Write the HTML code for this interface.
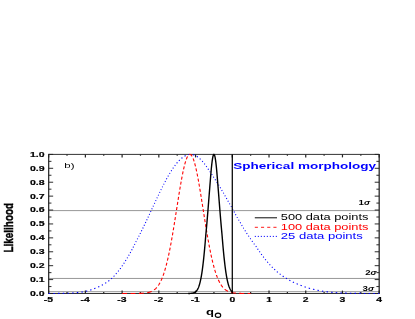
<!DOCTYPE html>
<html><head><meta charset="utf-8"><style>
html,body{margin:0;padding:0;background:#fff;}
body{width:415px;height:319px;position:relative;overflow:hidden;font-family:"Liberation Sans",sans-serif;}
text{font-family:"Liberation Sans",sans-serif;}
</style></head><body>
<svg width="415" height="319" viewBox="0 0 415 319" style="position:absolute;left:0;top:0;will-change:transform">
<line x1="48.6" x2="379.2" y1="210.60" y2="210.60" stroke="#7c7c7c" stroke-width="0.8"/>
<line x1="48.6" x2="379.2" y1="278.45" y2="278.45" stroke="#7c7c7c" stroke-width="0.8"/>
<line x1="48.6" x2="379.2" y1="291.70" y2="291.70" stroke="#7c7c7c" stroke-width="0.8"/>
<line x1="48.65" y1="154.40" x2="379.20" y2="154.40" stroke="#333" stroke-width="1.00"/>
<line x1="48.65" y1="293.50" x2="379.20" y2="293.50" stroke="#333" stroke-width="1.00"/>
<line x1="48.65" y1="153.90" x2="48.65" y2="294.00" stroke="#333" stroke-width="1.35"/>
<line x1="379.20" y1="153.90" x2="379.20" y2="294.00" stroke="#333" stroke-width="1.35"/>
<line x1="48.65" x2="48.65" y1="293.50" y2="290.60" stroke="#222" stroke-width="1.2"/>
<line x1="48.65" x2="48.65" y1="154.40" y2="157.40" stroke="#222" stroke-width="1.2"/>
<line x1="67.01" x2="67.01" y1="293.50" y2="292.10" stroke="#222" stroke-width="1.2"/>
<line x1="67.01" x2="67.01" y1="154.40" y2="155.70" stroke="#222" stroke-width="1.2"/>
<line x1="85.38" x2="85.38" y1="293.50" y2="290.60" stroke="#222" stroke-width="1.2"/>
<line x1="85.38" x2="85.38" y1="154.40" y2="157.40" stroke="#222" stroke-width="1.2"/>
<line x1="103.74" x2="103.74" y1="293.50" y2="292.10" stroke="#222" stroke-width="1.2"/>
<line x1="103.74" x2="103.74" y1="154.40" y2="155.70" stroke="#222" stroke-width="1.2"/>
<line x1="122.11" x2="122.11" y1="293.50" y2="290.60" stroke="#222" stroke-width="1.2"/>
<line x1="122.11" x2="122.11" y1="154.40" y2="157.40" stroke="#222" stroke-width="1.2"/>
<line x1="140.47" x2="140.47" y1="293.50" y2="292.10" stroke="#222" stroke-width="1.2"/>
<line x1="140.47" x2="140.47" y1="154.40" y2="155.70" stroke="#222" stroke-width="1.2"/>
<line x1="158.83" x2="158.83" y1="293.50" y2="290.60" stroke="#222" stroke-width="1.2"/>
<line x1="158.83" x2="158.83" y1="154.40" y2="157.40" stroke="#222" stroke-width="1.2"/>
<line x1="177.20" x2="177.20" y1="293.50" y2="292.10" stroke="#222" stroke-width="1.2"/>
<line x1="177.20" x2="177.20" y1="154.40" y2="155.70" stroke="#222" stroke-width="1.2"/>
<line x1="195.56" x2="195.56" y1="293.50" y2="290.60" stroke="#222" stroke-width="1.2"/>
<line x1="195.56" x2="195.56" y1="154.40" y2="157.40" stroke="#222" stroke-width="1.2"/>
<line x1="213.93" x2="213.93" y1="293.50" y2="292.10" stroke="#222" stroke-width="1.2"/>
<line x1="213.93" x2="213.93" y1="154.40" y2="155.70" stroke="#222" stroke-width="1.2"/>
<line x1="232.29" x2="232.29" y1="293.50" y2="290.60" stroke="#222" stroke-width="1.2"/>
<line x1="232.29" x2="232.29" y1="154.40" y2="157.40" stroke="#222" stroke-width="1.2"/>
<line x1="250.65" x2="250.65" y1="293.50" y2="292.10" stroke="#222" stroke-width="1.2"/>
<line x1="250.65" x2="250.65" y1="154.40" y2="155.70" stroke="#222" stroke-width="1.2"/>
<line x1="269.02" x2="269.02" y1="293.50" y2="290.60" stroke="#222" stroke-width="1.2"/>
<line x1="269.02" x2="269.02" y1="154.40" y2="157.40" stroke="#222" stroke-width="1.2"/>
<line x1="287.38" x2="287.38" y1="293.50" y2="292.10" stroke="#222" stroke-width="1.2"/>
<line x1="287.38" x2="287.38" y1="154.40" y2="155.70" stroke="#222" stroke-width="1.2"/>
<line x1="305.74" x2="305.74" y1="293.50" y2="290.60" stroke="#222" stroke-width="1.2"/>
<line x1="305.74" x2="305.74" y1="154.40" y2="157.40" stroke="#222" stroke-width="1.2"/>
<line x1="324.11" x2="324.11" y1="293.50" y2="292.10" stroke="#222" stroke-width="1.2"/>
<line x1="324.11" x2="324.11" y1="154.40" y2="155.70" stroke="#222" stroke-width="1.2"/>
<line x1="342.47" x2="342.47" y1="293.50" y2="290.60" stroke="#222" stroke-width="1.2"/>
<line x1="342.47" x2="342.47" y1="154.40" y2="157.40" stroke="#222" stroke-width="1.2"/>
<line x1="360.84" x2="360.84" y1="293.50" y2="292.10" stroke="#222" stroke-width="1.2"/>
<line x1="360.84" x2="360.84" y1="154.40" y2="155.70" stroke="#222" stroke-width="1.2"/>
<line x1="379.20" x2="379.20" y1="293.50" y2="290.60" stroke="#222" stroke-width="1.2"/>
<line x1="379.20" x2="379.20" y1="154.40" y2="157.40" stroke="#222" stroke-width="1.2"/>
<line x1="48.65" x2="53.15" y1="293.50" y2="293.50" stroke="#222" stroke-width="0.95"/>
<line x1="379.20" x2="374.70" y1="293.50" y2="293.50" stroke="#222" stroke-width="0.95"/>
<line x1="48.65" x2="51.45" y1="286.55" y2="286.55" stroke="#222" stroke-width="0.95"/>
<line x1="379.20" x2="376.40" y1="286.55" y2="286.55" stroke="#222" stroke-width="0.95"/>
<line x1="48.65" x2="53.15" y1="279.59" y2="279.59" stroke="#222" stroke-width="0.95"/>
<line x1="379.20" x2="374.70" y1="279.59" y2="279.59" stroke="#222" stroke-width="0.95"/>
<line x1="48.65" x2="51.45" y1="272.63" y2="272.63" stroke="#222" stroke-width="0.95"/>
<line x1="379.20" x2="376.40" y1="272.63" y2="272.63" stroke="#222" stroke-width="0.95"/>
<line x1="48.65" x2="53.15" y1="265.68" y2="265.68" stroke="#222" stroke-width="0.95"/>
<line x1="379.20" x2="374.70" y1="265.68" y2="265.68" stroke="#222" stroke-width="0.95"/>
<line x1="48.65" x2="51.45" y1="258.73" y2="258.73" stroke="#222" stroke-width="0.95"/>
<line x1="379.20" x2="376.40" y1="258.73" y2="258.73" stroke="#222" stroke-width="0.95"/>
<line x1="48.65" x2="53.15" y1="251.77" y2="251.77" stroke="#222" stroke-width="0.95"/>
<line x1="379.20" x2="374.70" y1="251.77" y2="251.77" stroke="#222" stroke-width="0.95"/>
<line x1="48.65" x2="51.45" y1="244.81" y2="244.81" stroke="#222" stroke-width="0.95"/>
<line x1="379.20" x2="376.40" y1="244.81" y2="244.81" stroke="#222" stroke-width="0.95"/>
<line x1="48.65" x2="53.15" y1="237.86" y2="237.86" stroke="#222" stroke-width="0.95"/>
<line x1="379.20" x2="374.70" y1="237.86" y2="237.86" stroke="#222" stroke-width="0.95"/>
<line x1="48.65" x2="51.45" y1="230.91" y2="230.91" stroke="#222" stroke-width="0.95"/>
<line x1="379.20" x2="376.40" y1="230.91" y2="230.91" stroke="#222" stroke-width="0.95"/>
<line x1="48.65" x2="53.15" y1="223.95" y2="223.95" stroke="#222" stroke-width="0.95"/>
<line x1="379.20" x2="374.70" y1="223.95" y2="223.95" stroke="#222" stroke-width="0.95"/>
<line x1="48.65" x2="51.45" y1="217.00" y2="217.00" stroke="#222" stroke-width="0.95"/>
<line x1="379.20" x2="376.40" y1="217.00" y2="217.00" stroke="#222" stroke-width="0.95"/>
<line x1="48.65" x2="53.15" y1="210.04" y2="210.04" stroke="#222" stroke-width="0.95"/>
<line x1="379.20" x2="374.70" y1="210.04" y2="210.04" stroke="#222" stroke-width="0.95"/>
<line x1="48.65" x2="51.45" y1="203.08" y2="203.08" stroke="#222" stroke-width="0.95"/>
<line x1="379.20" x2="376.40" y1="203.08" y2="203.08" stroke="#222" stroke-width="0.95"/>
<line x1="48.65" x2="53.15" y1="196.13" y2="196.13" stroke="#222" stroke-width="0.95"/>
<line x1="379.20" x2="374.70" y1="196.13" y2="196.13" stroke="#222" stroke-width="0.95"/>
<line x1="48.65" x2="51.45" y1="189.18" y2="189.18" stroke="#222" stroke-width="0.95"/>
<line x1="379.20" x2="376.40" y1="189.18" y2="189.18" stroke="#222" stroke-width="0.95"/>
<line x1="48.65" x2="53.15" y1="182.22" y2="182.22" stroke="#222" stroke-width="0.95"/>
<line x1="379.20" x2="374.70" y1="182.22" y2="182.22" stroke="#222" stroke-width="0.95"/>
<line x1="48.65" x2="51.45" y1="175.26" y2="175.26" stroke="#222" stroke-width="0.95"/>
<line x1="379.20" x2="376.40" y1="175.26" y2="175.26" stroke="#222" stroke-width="0.95"/>
<line x1="48.65" x2="53.15" y1="168.31" y2="168.31" stroke="#222" stroke-width="0.95"/>
<line x1="379.20" x2="374.70" y1="168.31" y2="168.31" stroke="#222" stroke-width="0.95"/>
<line x1="48.65" x2="51.45" y1="161.35" y2="161.35" stroke="#222" stroke-width="0.95"/>
<line x1="379.20" x2="376.40" y1="161.35" y2="161.35" stroke="#222" stroke-width="0.95"/>
<line x1="48.65" x2="53.15" y1="154.40" y2="154.40" stroke="#222" stroke-width="0.95"/>
<line x1="379.20" x2="374.70" y1="154.40" y2="154.40" stroke="#222" stroke-width="0.95"/>
<path fill="none" stroke="#0000ff" stroke-width="1.1" d="M48.65,293.48L49.02,293.48L49.38,293.48L49.75,293.48L50.12,293.48L50.13,293.48M53.35,293.46L53.42,293.46L53.79,293.46L54.16,293.46L54.53,293.45L54.84,293.45M58.05,293.42L58.20,293.42L58.57,293.42L58.93,293.41L59.30,293.41L59.54,293.41M62.76,293.35L62.97,293.35L63.34,293.34L63.71,293.33L64.08,293.32L64.24,293.32M67.45,293.23L67.75,293.22L68.12,293.20L68.48,293.19L68.85,293.18L68.94,293.17M72.14,293.01L72.16,293.01L72.52,292.99L72.89,292.97L73.26,292.95L73.62,292.92M76.81,292.67L76.93,292.66L77.30,292.62L77.66,292.58L78.03,292.55L78.27,292.52M81.42,292.11L81.71,292.07L82.07,292.01L82.44,291.95L82.81,291.89L82.85,291.88M85.91,291.27L86.11,291.23L86.48,291.14L86.85,291.05L87.21,290.96L87.29,290.94M90.20,290.11L90.52,290.01L90.89,289.89L91.25,289.76L91.50,289.68M94.21,288.62L94.56,288.47L94.93,288.31L95.29,288.14L95.41,288.09M98.09,287.02L98.23,286.96L98.60,286.80L98.97,286.64L99.29,286.49M101.79,285.26L101.91,285.20L102.27,285.01L102.64,284.81L102.90,284.67M105.22,283.31L105.58,283.08L105.95,282.85L106.24,282.66M108.36,281.19L108.52,281.08L108.88,280.81L109.25,280.54L109.31,280.50M111.18,278.91L111.45,278.65L111.82,278.30L111.98,278.15M113.64,276.49L113.66,276.47L114.03,276.09L114.38,275.71M115.93,273.99L116.23,273.65L116.60,273.22L116.61,273.20M118.06,271.45L118.07,271.44L118.43,270.98L118.70,270.64M120.05,268.87L120.27,268.58L120.64,268.08L120.66,268.05M121.94,266.26L122.11,266.02L122.47,265.49L122.51,265.43M123.73,263.63L123.94,263.30L124.27,262.79M125.43,260.97L125.78,260.42L125.96,260.13M127.07,258.30L127.25,258.00L127.57,257.45M128.64,255.61L128.72,255.48L129.08,254.84L129.13,254.76M130.16,252.92L130.19,252.87L130.55,252.20L130.63,252.06M131.63,250.21L131.65,250.17L132.02,249.48L132.09,249.35M133.06,247.49L133.12,247.38L133.49,246.66L133.51,246.64M134.46,244.77L134.59,244.50L134.89,243.91M135.83,242.05L136.06,241.59L136.28,241.19M137.26,239.33L137.53,238.82L137.71,238.47M138.67,236.61L139.00,235.97L139.11,235.75M140.06,233.89L140.10,233.80L140.47,233.07L140.49,233.03M141.42,231.16L141.57,230.85L141.84,230.30M142.76,228.43L143.04,227.85L143.18,227.57M144.08,225.69L144.14,225.56L144.49,224.83M145.39,222.96L145.61,222.49L145.80,222.09M146.68,220.22L146.71,220.15L147.08,219.37L147.09,219.35M147.97,217.48L148.18,217.02L148.37,216.61M149.25,214.73L149.28,214.65L149.65,213.87M150.52,211.99L150.75,211.49L150.92,211.12M151.79,209.25L151.86,209.11L152.19,208.38M153.06,206.50L153.32,205.93L153.46,205.64M154.33,203.76L154.43,203.56L154.74,202.89M155.61,201.02L155.90,200.41L156.02,200.15M156.90,198.27L157.00,198.06L157.31,197.41M158.20,195.53L158.47,194.97L158.61,194.67M159.51,192.80L159.57,192.67L159.92,191.93M160.84,190.06L161.04,189.66L161.26,189.20M162.19,187.33L162.51,186.70L162.62,186.47M163.57,184.61L163.61,184.53L163.98,183.82L164.01,183.75M164.98,181.89L165.08,181.71L165.43,181.03M166.43,179.18L166.55,178.97L166.90,178.33M167.94,176.48L168.02,176.34L168.38,175.70L168.42,175.63M169.50,173.79L169.85,173.20L170.00,172.95M171.13,171.12L171.32,170.82L171.67,170.28M172.86,168.47L173.16,168.03L173.43,167.64M174.71,165.85L174.99,165.47L175.32,165.03M176.72,163.27L176.83,163.14L177.20,162.70L177.39,162.47M178.95,160.76L179.03,160.67L179.40,160.30L179.71,159.99M181.50,158.37L181.60,158.28L181.97,157.99L182.34,157.70L182.40,157.66M184.57,156.22L184.91,156.02L185.28,155.83L185.64,155.65L185.69,155.63M188.48,154.67L188.58,154.64L188.95,154.57L189.32,154.51L189.68,154.47L189.91,154.45M193.07,154.66L193.36,154.74L193.72,154.85L194.09,154.97L194.39,155.08M196.84,156.33L197.03,156.45L197.40,156.70L197.76,156.96L197.83,157.00M199.73,158.57L199.97,158.79L200.34,159.14L200.53,159.33M202.14,161.02L202.17,161.05L202.54,161.47L202.83,161.81M204.26,163.56L204.38,163.72L204.74,164.20L204.88,164.38M206.18,166.17L206.21,166.21L206.58,166.74L206.75,166.99M208.02,168.79L208.05,168.83L208.42,169.35L208.60,169.62M209.83,171.42L209.88,171.49L210.25,172.04L210.40,172.25M211.59,174.06L211.72,174.25L212.09,174.81L212.14,174.90M213.32,176.71L213.56,177.08L213.86,177.55M215.04,179.36L215.39,179.92L215.58,180.20M216.75,182.02L216.86,182.20L217.23,182.77L217.29,182.86M218.46,184.67L218.70,185.05L219.00,185.51M220.12,187.34L220.17,187.42L220.54,188.05L220.62,188.19M221.69,190.03L222.01,190.57L222.18,190.87M223.25,192.71L223.47,193.09L223.75,193.56M224.82,195.40L224.94,195.61L225.31,196.24L225.32,196.25M226.37,198.09L226.41,198.16L226.78,198.81L226.85,198.94M227.90,200.79L228.25,201.41L228.38,201.64M229.43,203.48L229.72,203.99L229.91,204.33M230.97,206.17L231.19,206.56L231.46,207.02M232.50,208.87L232.66,209.16L232.97,209.72M233.98,211.57L234.13,211.83L234.46,212.43M235.48,214.27L235.59,214.47L235.96,215.13M237.00,216.97L237.06,217.09L237.43,217.74L237.48,217.82M238.53,219.67L238.53,219.67L238.90,220.31L239.02,220.52M240.09,222.36L240.37,222.84L240.58,223.20M241.67,225.04L241.84,225.33L242.17,225.89M243.28,227.72L243.31,227.77L243.67,228.37L243.79,228.56M244.92,230.39L245.14,230.74L245.46,231.23M246.62,233.05L246.98,233.59L247.17,233.88M248.37,235.69L248.45,235.81L248.82,236.36L248.93,236.53M250.16,238.33L250.29,238.51L250.65,239.04L250.73,239.16M251.98,240.95L252.12,241.15L252.49,241.67L252.57,241.78M253.85,243.57L253.96,243.72L254.33,244.22L254.45,244.39M255.78,246.17L255.79,246.19L256.16,246.67L256.38,246.99M257.59,248.80L257.63,248.86L258.00,249.40L258.15,249.63M259.39,251.43L259.47,251.54L259.83,252.06L259.97,252.26M261.25,254.05L261.30,254.12L261.67,254.62L261.85,254.87M263.18,256.65L263.51,257.08L263.80,257.46M265.18,259.23L265.34,259.44L265.71,259.89L265.83,260.04M267.29,261.77L267.55,262.08L267.91,262.50L267.98,262.57M269.52,264.28L269.75,264.54L270.12,264.94L270.24,265.07M271.85,266.76L271.95,266.87L272.32,267.24L272.61,267.53M274.31,269.19L274.53,269.40L274.89,269.74L275.11,269.95M276.90,271.57L277.10,271.74L277.46,272.06L277.74,272.31M279.70,273.85L280.04,274.11L280.40,274.38L280.63,274.55M282.71,276.04L282.97,276.22L283.34,276.47L283.70,276.71M285.90,278.14L285.91,278.14L286.28,278.37L286.65,278.59L286.95,278.77M289.28,280.12L289.58,280.29L289.95,280.49L290.32,280.69L290.38,280.72M292.84,281.98L292.89,282.01L293.26,282.19L293.62,282.36L293.99,282.54L294.00,282.54M296.59,283.70L296.93,283.84L297.30,284.00L297.66,284.15L297.81,284.21M300.53,285.25L300.60,285.28L300.97,285.43L301.34,285.57L301.70,285.71L301.78,285.74M304.53,286.75L304.64,286.79L305.01,286.91L305.38,287.03L305.74,287.15L305.83,287.18M308.71,288.06L309.05,288.16L309.42,288.26L309.78,288.36L310.06,288.43M313.03,289.18L313.09,289.20L313.46,289.28L313.82,289.36L314.19,289.45L314.42,289.50M317.42,290.19L317.50,290.21L317.86,290.29L318.23,290.36L318.60,290.44L318.83,290.48M321.91,291.05L322.27,291.11L322.64,291.17L323.01,291.23L323.34,291.28M326.48,291.72L326.68,291.74L327.05,291.79L327.41,291.83L327.78,291.88L327.93,291.90M331.10,292.23L331.45,292.27L331.82,292.30L332.19,292.34L332.56,292.37L332.57,292.37M335.76,292.63L335.86,292.63L336.23,292.66L336.60,292.68L336.96,292.71L337.24,292.72M340.44,292.91L340.64,292.92L341.00,292.93L341.37,292.95L341.74,292.97L341.92,292.98M345.13,293.11L345.41,293.12L345.78,293.13L346.14,293.14L346.51,293.15L346.61,293.15M349.83,293.24L350.19,293.25L350.55,293.26L350.92,293.27L351.29,293.28L351.31,293.28M354.53,293.34L354.59,293.34L354.96,293.34L355.33,293.35L355.69,293.35L356.01,293.36M359.23,293.40L359.37,293.40L359.73,293.40L360.10,293.41L360.47,293.41L360.71,293.41M363.93,293.44L364.14,293.44L364.51,293.44L364.88,293.44L365.24,293.44L365.42,293.45M368.63,293.46L368.92,293.46L369.28,293.46L369.65,293.47L370.02,293.47L370.12,293.47M373.34,293.48L373.69,293.48L374.06,293.48L374.43,293.48L374.79,293.48L374.82,293.48M378.04,293.49L378.10,293.49L378.47,293.49L378.83,293.49L379.20,293.49"/>
<path fill="none" stroke="#ff0000" stroke-width="1.1" d="M122.11,293.50L122.32,293.50L122.53,293.50L122.75,293.50L122.96,293.50L123.18,293.50L123.39,293.50L123.61,293.50L123.82,293.50L124.03,293.50L124.25,293.50L124.46,293.50L124.68,293.50L124.89,293.50L125.10,293.50L125.32,293.50L125.53,293.50L125.75,293.50L125.96,293.50L126.18,293.50L126.39,293.50L126.60,293.50L126.82,293.50L127.03,293.50L127.06,293.50M130.52,293.49L130.68,293.49L130.89,293.49L131.10,293.49L131.32,293.49L131.53,293.49L131.75,293.49L131.96,293.49L132.18,293.49L132.39,293.49L132.60,293.49L132.82,293.49L133.03,293.49L133.25,293.49L133.46,293.48L133.67,293.48L133.89,293.48L134.10,293.48L134.32,293.48L134.53,293.48L134.75,293.48L134.96,293.47L135.17,293.47L135.39,293.47L135.47,293.47M138.93,293.42L139.03,293.41L139.25,293.41L139.46,293.40L139.67,293.40L139.89,293.39L140.10,293.38L140.32,293.38L140.53,293.37L140.74,293.36L140.96,293.35L141.17,293.34L141.39,293.33L141.60,293.32L141.82,293.31L142.03,293.30L142.24,293.29L142.46,293.28L142.67,293.26L142.89,293.25L143.10,293.23L143.32,293.22L143.53,293.20L143.74,293.18L143.87,293.17M147.25,292.73L147.39,292.70L147.60,292.66L147.82,292.62L148.03,292.57L148.24,292.52L148.46,292.47L148.67,292.42L148.89,292.36L149.10,292.30L149.31,292.24L149.53,292.18L149.74,292.11L149.96,292.04L150.17,291.97L150.39,291.89L150.60,291.81L150.81,291.73L151.03,291.64L151.24,291.55L151.46,291.45L151.63,291.37M154.11,289.91L154.24,289.81L154.46,289.65L154.67,289.48L154.89,289.30L155.10,289.12L155.31,288.93L155.53,288.73L155.74,288.53L155.96,288.31L156.17,288.09L156.38,287.87L156.60,287.63L156.80,287.40M158.27,285.50L158.31,285.44L158.53,285.12L158.74,284.79L158.96,284.46L159.17,284.11L159.38,283.75L159.60,283.38L159.81,283.00L159.98,282.68M161.00,280.68L161.10,280.46L161.31,280.00L161.53,279.52L161.74,279.02L161.96,278.52L162.17,278.00L162.26,277.78M163.05,275.73L163.24,275.19L163.45,274.59L163.67,273.97L163.88,273.33L164.06,272.79M164.71,270.73L164.74,270.64L164.95,269.93L165.17,269.20L165.38,268.46L165.58,267.78M166.14,265.71L166.24,265.32L166.45,264.50L166.67,263.66L166.88,262.80L166.90,262.74M167.40,260.66L167.53,260.14L167.74,259.22L167.95,258.28L168.09,257.69M168.54,255.61L168.60,255.37L168.81,254.36L169.03,253.35L169.17,252.63M169.60,250.55L169.67,250.20L169.88,249.12L170.10,248.03L170.18,247.57M170.58,245.49L170.74,244.66L170.95,243.50L171.14,242.50M171.52,240.42L171.60,239.97L171.81,238.76L172.02,237.54L172.04,237.43M172.41,235.35L172.45,235.07L172.67,233.82L172.88,232.56L172.91,232.36M173.26,230.27L173.31,230.00L173.52,228.71L173.74,227.40L173.76,227.29M174.10,225.20L174.17,224.77L174.38,223.45L174.58,222.21M174.91,220.12L175.02,219.43L175.24,218.08L175.39,217.14M175.72,215.04L175.88,214.01L176.10,212.64L176.19,212.06M176.52,209.97L176.52,209.91L176.74,208.55L176.95,207.18L176.98,206.98M177.31,204.89L177.38,204.45L177.60,203.09L177.78,201.90M178.11,199.81L178.24,199.03L178.45,197.68L178.59,196.83M178.93,194.74L179.09,193.69L179.31,192.38L179.41,191.75M179.76,189.66L179.95,188.50L180.17,187.23L180.26,186.68M180.62,184.59L180.81,183.50L181.02,182.29L181.15,181.61M181.52,179.52L181.67,178.75L181.88,177.61L182.08,176.54M182.49,174.45L182.52,174.29L182.74,173.23L182.95,172.19L183.10,171.48M183.55,169.39L183.59,169.21L183.81,168.27L184.02,167.35L184.24,166.46L184.25,166.42M184.78,164.35L184.88,163.96L185.09,163.18L185.31,162.43L185.52,161.72L185.62,161.39M186.32,159.33L186.38,159.16L186.59,158.60L186.81,158.08L187.02,157.59L187.24,157.13L187.45,156.71L187.60,156.44M189.18,154.59L189.38,154.50L189.59,154.43L189.81,154.40L190.02,154.41L190.24,154.45L190.45,154.53L190.66,154.65L190.88,154.81L191.09,155.00L191.31,155.22L191.52,155.48L191.74,155.78L191.95,156.11L192.12,156.40M193.07,158.42L193.24,158.84L193.45,159.41L193.66,160.01L193.88,160.65L194.09,161.32L194.10,161.35M194.71,163.42L194.73,163.51L194.95,164.30L195.16,165.12L195.38,165.97L195.48,166.39M195.97,168.46L196.02,168.67L196.23,169.62L196.45,170.60L196.63,171.44M197.06,173.52L197.09,173.68L197.31,174.75L197.52,175.85L197.65,176.50M198.04,178.59L198.16,179.25L198.38,180.42L198.58,181.57M198.95,183.66L199.02,184.03L199.23,185.26L199.45,186.51L199.47,186.64M199.82,188.73L199.88,189.05L200.09,190.34L200.31,191.63L200.32,191.71M200.66,193.80L200.73,194.26L200.95,195.58L201.14,196.79M201.48,198.88L201.59,199.60L201.80,200.96L201.95,201.87M202.28,203.96L202.45,205.03L202.66,206.40L202.75,206.94M203.07,209.03L203.09,209.13L203.30,210.50L203.52,211.86L203.54,212.02M203.87,214.11L203.95,214.59L204.16,215.95L204.34,217.10M204.67,219.19L204.80,220.01L205.02,221.35L205.15,222.17M205.49,224.26L205.66,225.34L205.88,226.66L205.97,227.25M206.32,229.34L206.52,230.55L206.73,231.83L206.82,232.32M207.17,234.41L207.38,235.61L207.59,236.84L207.69,237.40M208.05,239.48L208.23,240.48L208.45,241.67L208.59,242.47M208.98,244.55L209.09,245.15L209.30,246.28L209.52,247.39L209.54,247.53M209.95,249.62L210.16,250.66L210.37,251.72L210.56,252.60M210.99,254.68L211.02,254.80L211.23,255.79L211.45,256.77L211.64,257.65M212.12,259.73L212.30,260.53L212.52,261.43L212.73,262.31L212.83,262.70M213.35,264.78L213.37,264.86L213.59,265.67L213.80,266.47L214.02,267.26L214.15,267.74M214.75,269.81L214.87,270.24L215.09,270.94L215.30,271.63L215.52,272.31L215.66,272.76M216.36,274.81L216.37,274.85L216.59,275.45L216.80,276.03L217.02,276.60L217.23,277.16L217.44,277.70L217.46,277.74M218.32,279.77L218.52,280.20L218.73,280.66L218.94,281.11L219.16,281.54L219.37,281.96L219.59,282.38L219.73,282.65M220.89,284.63L221.09,284.93L221.30,285.26L221.52,285.57L221.73,285.87L221.94,286.17L222.16,286.45L222.37,286.72L222.59,286.99L222.80,287.25L222.90,287.37M224.69,289.16L224.73,289.20L224.94,289.38L225.16,289.55L225.37,289.72L225.59,289.88L225.80,290.04L226.01,290.19L226.23,290.33L226.44,290.47L226.66,290.60L226.87,290.73L227.09,290.85L227.30,290.97L227.51,291.08L227.73,291.19L227.94,291.30L228.05,291.35M231.03,292.41L231.16,292.44L231.37,292.49L231.58,292.54L231.80,292.59L232.01,292.63L232.23,292.68L232.44,292.72L232.66,292.76L232.87,292.80L233.08,292.83L233.30,292.87L233.51,292.90L233.73,292.93L233.94,292.96L234.16,292.99L234.37,293.02L234.58,293.04L234.80,293.07L235.01,293.09L235.23,293.11L235.44,293.13L235.66,293.15L235.81,293.17M239.26,293.37L239.30,293.37L239.51,293.38L239.73,293.39L239.94,293.39L240.15,293.40L240.37,293.41L240.58,293.41L240.80,293.42L241.01,293.42L241.23,293.43L241.44,293.43L241.65,293.44L241.87,293.44L242.08,293.44L242.30,293.45L242.51,293.45L242.73,293.45L242.94,293.46L243.15,293.46L243.37,293.46L243.58,293.46L243.80,293.47L244.01,293.47L244.20,293.47M247.67,293.49L247.87,293.49L248.08,293.49L248.30,293.49L248.51,293.49L248.72,293.49L248.94,293.49L249.15,293.49L249.37,293.49L249.58,293.49L249.80,293.50L250.01,293.50L250.22,293.50L250.44,293.50L250.65,293.50"/>
<polyline fill="none" stroke="#000" stroke-width="1.4" points="188.22,293.48 188.33,293.47 188.44,293.47 188.55,293.47 188.66,293.47 188.77,293.47 188.88,293.46 188.99,293.46 189.10,293.46 189.21,293.45 189.32,293.45 189.43,293.45 189.54,293.44 189.65,293.44 189.76,293.44 189.87,293.43 189.98,293.43 190.09,293.42 190.20,293.41 190.31,293.41 190.42,293.40 190.53,293.39 190.64,293.39 190.75,293.38 190.86,293.37 190.97,293.36 191.08,293.35 191.19,293.34 191.30,293.33 191.41,293.32 191.52,293.31 191.63,293.30 191.74,293.28 191.85,293.27 191.96,293.25 192.07,293.24 192.18,293.22 192.29,293.20 192.40,293.18 192.51,293.16 192.62,293.14 192.73,293.12 192.84,293.09 192.95,293.07 193.06,293.04 193.17,293.01 193.28,292.98 193.39,292.95 193.50,292.92 193.61,292.88 193.72,292.85 193.83,292.81 193.95,292.76 194.06,292.72 194.17,292.68 194.28,292.63 194.39,292.58 194.50,292.52 194.61,292.47 194.72,292.41 194.83,292.34 194.94,292.28 195.05,292.21 195.16,292.14 195.27,292.06 195.38,291.98 195.49,291.90 195.60,291.81 195.71,291.72 195.82,291.62 195.93,291.52 196.04,291.42 196.15,291.31 196.26,291.19 196.37,291.07 196.48,290.94 196.59,290.81 196.70,290.68 196.81,290.53 196.92,290.38 197.03,290.22 197.14,290.06 197.25,289.89 197.36,289.71 197.47,289.53 197.58,289.33 197.69,289.13 197.80,288.92 197.91,288.71 198.02,288.48 198.13,288.24 198.24,288.00 198.35,287.74 198.46,287.48 198.57,287.20 198.68,286.92 198.79,286.62 198.90,286.32 199.01,286.00 199.12,285.67 199.23,285.33 199.34,284.97 199.45,284.61 199.56,284.23 199.67,283.84 199.78,283.43 199.89,283.01 200.01,282.58 200.12,282.13 200.23,281.67 200.34,281.20 200.45,280.70 200.56,280.20 200.67,279.67 200.78,279.14 200.89,278.58 201.00,278.01 201.11,277.42 201.22,276.82 201.33,276.20 201.44,275.56 201.55,274.90 201.66,274.22 201.77,273.53 201.88,272.82 201.99,272.09 202.10,271.34 202.21,270.57 202.32,269.78 202.43,268.98 202.54,268.15 202.65,267.31 202.76,266.44 202.87,265.56 202.98,264.65 203.09,263.73 203.20,262.79 203.31,261.82 203.42,260.84 203.53,259.84 203.64,258.82 203.75,257.77 203.86,256.71 203.97,255.63 204.08,254.53 204.19,253.41 204.30,252.27 204.41,251.11 204.52,249.94 204.63,248.74 204.74,247.53 204.85,246.30 204.96,245.05 205.07,243.79 205.18,242.51 205.29,241.21 205.40,239.89 205.51,238.56 205.62,237.22 205.73,235.86 205.84,234.49 205.96,233.34 206.07,232.18 206.18,231.00 206.29,229.82 206.40,228.61 206.51,227.40 206.62,226.17 206.73,224.92 206.84,223.67 206.95,222.40 207.06,221.12 207.17,219.83 207.28,218.53 207.39,217.21 207.50,215.89 207.61,214.55 207.72,213.21 207.83,211.86 207.94,210.50 208.05,209.13 208.16,207.76 208.27,206.38 208.38,204.99 208.49,203.60 208.60,202.21 208.71,200.81 208.82,199.41 208.93,198.01 209.04,196.61 209.15,195.21 209.26,193.81 209.37,192.41 209.48,191.02 209.59,189.63 209.70,188.25 209.81,186.87 209.92,185.50 210.03,184.15 210.14,182.80 210.25,181.47 210.36,180.03 210.47,178.61 210.58,177.22 210.69,175.86 210.80,174.53 210.91,173.24 211.02,171.97 211.13,170.74 211.24,169.55 211.35,168.40 211.46,167.28 211.57,166.20 211.68,165.16 211.79,164.17 211.90,163.21 212.02,162.31 212.13,161.44 212.24,160.63 212.35,159.86 212.46,159.13 212.57,158.46 212.68,157.84 212.79,157.26 212.90,156.74 213.01,156.27 213.12,155.85 213.23,155.48 213.34,155.17 213.45,154.91 213.56,154.70 213.67,154.55 213.78,154.45 213.89,154.40 214.00,154.41 214.11,154.48 214.22,154.59 214.33,154.76 214.44,154.99 214.55,155.27 214.66,155.60 214.77,155.98 214.88,156.42 214.99,156.91 215.10,157.45 215.21,158.04 215.32,158.68 215.43,159.37 215.54,160.11 215.65,160.89 215.76,161.73 215.87,162.60 215.98,163.53 216.09,164.49 216.20,165.50 216.31,166.55 216.42,167.65 216.53,168.78 216.64,169.95 216.75,171.15 216.86,172.39 216.97,173.67 217.08,174.97 217.19,176.31 217.30,177.68 217.41,179.08 217.52,180.50 217.63,181.91 217.74,183.25 217.85,184.60 217.97,185.96 218.08,187.33 218.19,188.71 218.30,190.09 218.41,191.48 218.52,192.87 218.63,194.27 218.74,195.67 218.85,197.07 218.96,198.47 219.07,199.88 219.18,201.27 219.29,202.67 219.40,204.06 219.51,205.45 219.62,206.84 219.73,208.22 219.84,209.59 219.95,210.95 220.06,212.31 220.17,213.66 220.28,215.00 220.39,216.33 220.50,217.65 220.61,218.96 220.72,220.26 220.83,221.55 220.94,222.82 221.05,224.09 221.16,225.34 221.27,226.58 221.38,227.80 221.49,229.01 221.60,230.21 221.71,231.40 221.82,232.57 221.93,233.72 222.04,234.95 222.15,236.31 222.26,237.67 222.37,239.01 222.48,240.33 222.59,241.64 222.70,242.93 222.81,244.21 222.92,245.47 223.03,246.71 223.14,247.94 223.25,249.14 223.36,250.33 223.47,251.50 223.58,252.65 223.69,253.79 223.80,254.90 223.91,255.99 224.03,257.07 224.14,258.12 224.25,259.16 224.36,260.17 224.47,261.17 224.58,262.15 224.69,263.10 224.80,264.04 224.91,264.96 225.02,265.85 225.13,266.73 225.24,267.59 225.35,268.43 225.46,269.25 225.57,270.05 225.68,270.83 225.79,271.59 225.90,272.33 226.01,273.06 226.12,273.76 226.23,274.45 226.34,275.12 226.45,275.77 226.56,276.40 226.67,277.02 226.78,277.62 226.89,278.20 227.00,278.77 227.11,279.32 227.22,279.85 227.33,280.37 227.44,280.87 227.55,281.36 227.66,281.83 227.77,282.28 227.88,282.73 227.99,283.15 228.10,283.57 228.21,283.97 228.32,284.36 228.43,284.73 228.54,285.09 228.65,285.44 228.76,285.78 228.87,286.11 228.98,286.42 229.09,286.72 229.20,287.02 229.31,287.30 229.42,287.57 229.53,287.83 229.64,288.08 229.75,288.32 229.86,288.55 229.98,288.78 230.09,288.99 230.20,289.20 230.31,289.40 230.42,289.59 230.53,289.77 230.64,289.95 230.75,290.12 230.86,290.28 230.97,290.43 231.08,290.58 231.19,290.72 231.30,290.86 231.41,290.99 231.52,291.11 231.63,291.23 231.74,291.34 231.85,291.45 231.96,291.56 232.07,291.66 232.18,291.75 232.29,291.84"/>
<line x1="232.29" x2="232.29" y1="154.40" y2="293.50" stroke="#000" stroke-width="1.25"/>
<text transform="translate(44.60,295.90) scale(1.570,1)" font-size="6.70" text-anchor="end" fill="#000" font-weight="bold" stroke="#000" stroke-width="0.18">0.0</text>
<text transform="translate(44.60,281.99) scale(1.570,1)" font-size="6.70" text-anchor="end" fill="#000" font-weight="bold" stroke="#000" stroke-width="0.18">0.1</text>
<text transform="translate(44.60,268.08) scale(1.570,1)" font-size="6.70" text-anchor="end" fill="#000" font-weight="bold" stroke="#000" stroke-width="0.18">0.2</text>
<text transform="translate(44.60,254.17) scale(1.570,1)" font-size="6.70" text-anchor="end" fill="#000" font-weight="bold" stroke="#000" stroke-width="0.18">0.3</text>
<text transform="translate(44.60,240.26) scale(1.570,1)" font-size="6.70" text-anchor="end" fill="#000" font-weight="bold" stroke="#000" stroke-width="0.18">0.4</text>
<text transform="translate(44.60,226.35) scale(1.570,1)" font-size="6.70" text-anchor="end" fill="#000" font-weight="bold" stroke="#000" stroke-width="0.18">0.5</text>
<text transform="translate(44.60,212.44) scale(1.570,1)" font-size="6.70" text-anchor="end" fill="#000" font-weight="bold" stroke="#000" stroke-width="0.18">0.6</text>
<text transform="translate(44.60,198.53) scale(1.570,1)" font-size="6.70" text-anchor="end" fill="#000" font-weight="bold" stroke="#000" stroke-width="0.18">0.7</text>
<text transform="translate(44.60,184.62) scale(1.570,1)" font-size="6.70" text-anchor="end" fill="#000" font-weight="bold" stroke="#000" stroke-width="0.18">0.8</text>
<text transform="translate(44.60,170.71) scale(1.570,1)" font-size="6.70" text-anchor="end" fill="#000" font-weight="bold" stroke="#000" stroke-width="0.18">0.9</text>
<text transform="translate(44.60,156.80) scale(1.570,1)" font-size="6.70" text-anchor="end" fill="#000" font-weight="bold" stroke="#000" stroke-width="0.18">1.0</text>
<text transform="translate(48.35,302.00) scale(1.550,1)" font-size="6.70" text-anchor="middle" fill="#000" font-weight="bold" stroke="#000" stroke-width="0.18">-5</text>
<text transform="translate(85.08,302.00) scale(1.550,1)" font-size="6.70" text-anchor="middle" fill="#000" font-weight="bold" stroke="#000" stroke-width="0.18">-4</text>
<text transform="translate(121.81,302.00) scale(1.550,1)" font-size="6.70" text-anchor="middle" fill="#000" font-weight="bold" stroke="#000" stroke-width="0.18">-3</text>
<text transform="translate(158.53,302.00) scale(1.550,1)" font-size="6.70" text-anchor="middle" fill="#000" font-weight="bold" stroke="#000" stroke-width="0.18">-2</text>
<text transform="translate(195.26,302.00) scale(1.550,1)" font-size="6.70" text-anchor="middle" fill="#000" font-weight="bold" stroke="#000" stroke-width="0.18">-1</text>
<text transform="translate(232.29,302.00) scale(1.550,1)" font-size="6.70" text-anchor="middle" fill="#000" font-weight="bold" stroke="#000" stroke-width="0.18">0</text>
<text transform="translate(269.02,302.00) scale(1.550,1)" font-size="6.70" text-anchor="middle" fill="#000" font-weight="bold" stroke="#000" stroke-width="0.18">1</text>
<text transform="translate(305.74,302.00) scale(1.550,1)" font-size="6.70" text-anchor="middle" fill="#000" font-weight="bold" stroke="#000" stroke-width="0.18">2</text>
<text transform="translate(342.47,302.00) scale(1.550,1)" font-size="6.70" text-anchor="middle" fill="#000" font-weight="bold" stroke="#000" stroke-width="0.18">3</text>
<text transform="translate(379.20,302.00) scale(1.550,1)" font-size="6.70" text-anchor="middle" fill="#000" font-weight="bold" stroke="#000" stroke-width="0.18">4</text>
<text transform="translate(64.30,168.10) scale(1.460,1)" font-size="7.80" text-anchor="start" fill="#000" font-weight="normal" >b)</text>
<text transform="translate(233.30,169.10) scale(1.520,1)" font-size="8.90" text-anchor="start" fill="#0000ff" font-weight="bold" >Spherical morphology</text>
<text transform="translate(358.60,205.10) scale(1.450,1)" font-size="6.70" text-anchor="start" fill="#000" font-weight="bold" >1<tspan font-style="italic" font-size="6.3">&#963;</tspan></text>
<text transform="translate(365.20,275.00) scale(1.450,1)" font-size="6.70" text-anchor="start" fill="#000" font-weight="bold" >2<tspan font-style="italic" font-size="6.3">&#963;</tspan></text>
<text transform="translate(362.60,290.70) scale(1.450,1)" font-size="6.70" text-anchor="start" fill="#000" font-weight="bold" >3<tspan font-style="italic" font-size="6.3">&#963;</tspan></text>
<line x1="254.8" x2="277" y1="217.75" y2="217.75" stroke="#333" stroke-width="1.2"/>
<line x1="254.8" x2="277" y1="227.3" y2="227.3" stroke="#ff0000" stroke-width="0.9" stroke-dasharray="3.1,3.1"/>
<line x1="254.8" x2="277" y1="236.4" y2="236.4" stroke="#0000ff" stroke-width="1.0" stroke-dasharray="1.1,1.9"/>
<text transform="translate(280.80,220.30) scale(1.528,1)" font-size="8.40" text-anchor="start" fill="#000" font-weight="normal" >500 data points</text>
<text transform="translate(280.80,229.90) scale(1.528,1)" font-size="8.40" text-anchor="start" fill="#ff0000" font-weight="normal" >100 data points</text>
<text transform="translate(280.80,239.30) scale(1.555,1)" font-size="8.40" text-anchor="start" fill="#0000ff" font-weight="normal" >25 data points</text>
<text transform="translate(13.2,227.7) rotate(-90) scale(1,1.38)" font-size="9.9" font-weight="bold" text-anchor="middle" stroke="#000" stroke-width="0.35">Likelihood</text>
<text transform="translate(206.00,315.20) scale(1.450,1)" font-size="9.00" text-anchor="start" fill="#000" font-weight="bold" >q</text>
<ellipse cx="218" cy="315.3" rx="2.7" ry="2.1" fill="none" stroke="#000" stroke-width="1.15"/>
</svg>
</body></html>
